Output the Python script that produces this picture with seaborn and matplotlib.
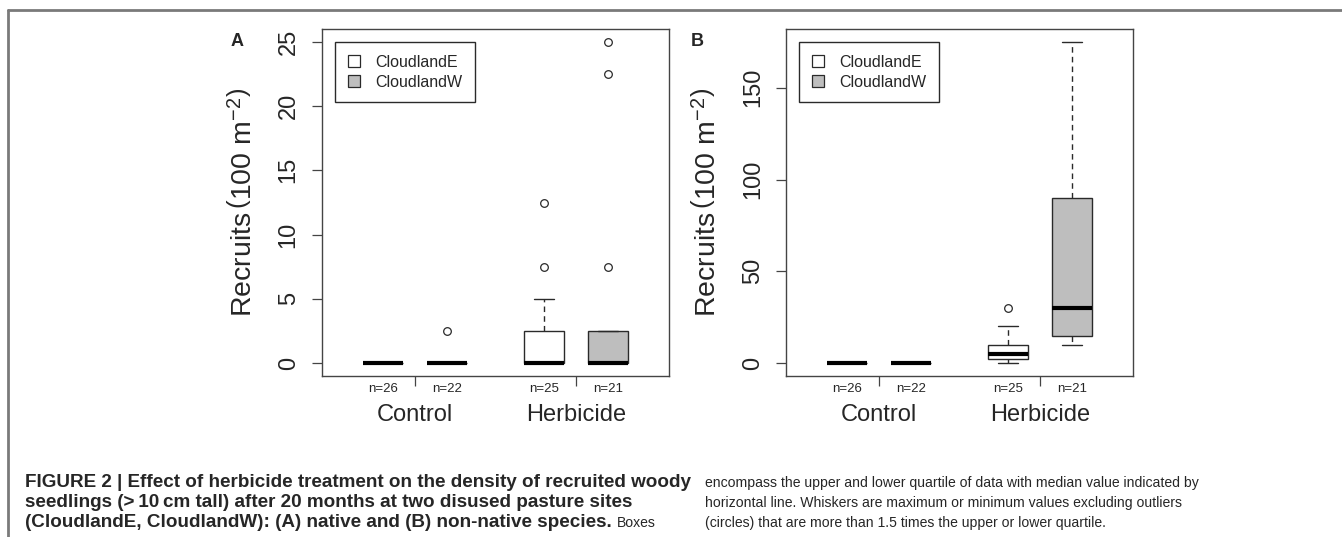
import numpy as np
import pandas as pd
import matplotlib
matplotlib.use("Agg")
import matplotlib.pyplot as plt
import seaborn as sns
from matplotlib.patches import Patch
from matplotlib.lines import Line2D
from matplotlib.transforms import blended_transform_factory

# box layout: two sites inside each treatment
positions = [1.0, 2.0, 3.5, 4.5]
sites = ["CloudlandE", "CloudlandW", "CloudlandE", "CloudlandW"]
n_labels = ["n=26", "n=22", "n=25", "n=21"]
treatments = ["Control", "Herbicide"]
treatment_ticks = [1.5, 4.0]

# recruits (100 m^-2): distinct plot values and how many plots had each value
# (A) native species
native_values = [
    [0.0],
    [0.0, 2.5],
    [0.0, 2.5, 5.0, 7.5, 12.5],
    [0.0, 2.5, 7.5, 22.5, 25.0],
]
native_counts = [
    [26],
    [21, 1],
    [14, 7, 2, 1, 1],
    [11, 7, 1, 1, 1],
]
# (B) non-native species
nonnative_values = [
    [0.0],
    [0.0],
    [0.0, 2.5, 5.0, 7.5, 10.0, 12.5, 15.0, 17.5, 20.0, 30.0],
    [10.0, 12.5, 15.0, 17.5, 20.0, 22.5, 27.5, 30.0, 35.0, 45.0, 60.0,
     75.0, 90.0, 100.0, 115.0, 130.0, 150.0, 175.0],
]
nonnative_counts = [
    [26],
    [22],
    [3, 5, 6, 3, 3, 1, 1, 1, 1, 1],
    [2, 2, 2, 1, 1, 1, 1, 1, 1, 1, 1, 1, 1, 1, 1, 1, 1, 1],
]

native_yticks = [0, 5, 10, 15, 20, 25]
nonnative_yticks = [0, 50, 100, 150]

caption_bold = [
    "FIGURE 2 | Effect of herbicide treatment on the density of recruited woody",
    "seedlings (>\u200910\u2009cm tall) after 20 months at two disused pasture sites",
    "(CloudlandE, CloudlandW): (A) native and (B) non-native species.",
]
caption_tail = "Boxes"
caption_right = [
    "encompass the upper and lower quartile of data with median value indicated by",
    "horizontal line. Whiskers are maximum or minimum values excluding outliers",
    "(circles) that are more than 1.5 times the upper or lower quartile.",
]

palette = {"CloudlandE": "white", "CloudlandW": "#bebebe"}
edge = "#2a2a2a"

sns.set_style("ticks")
plt.rcParams["font.family"] = ["Liberation Sans", "DejaVu Sans"]
plt.rcParams["mathtext.fontset"] = "custom"
plt.rcParams["mathtext.rm"] = "Liberation Sans"
plt.rcParams["mathtext.it"] = "Liberation Sans:italic"


def build_frame(values, counts):
    rows = []
    for pos, site, vals, cnts in zip(positions, sites, values, counts):
        for v in np.repeat(vals, cnts):
            rows.append({"pos": pos, "site": site, "recruits": v})
    return pd.DataFrame(rows)


def draw_panel(ax, df, yticks, ylim):
    sns.boxplot(data=df, x="pos", y="recruits", hue="site", palette=palette,
                native_scale=True, dodge=False, width=0.62, saturation=1,
                linecolor=edge, linewidth=1.0, fliersize=5.5,
                whiskerprops={"linestyle": (0, (4, 3))},
                medianprops={"color": "black", "linewidth": 3,
                             "solid_capstyle": "butt"},
                flierprops={"marker": "o", "markerfacecolor": "none",
                            "markeredgecolor": edge, "markeredgewidth": 0.9},
                legend=False, ax=ax)
    ax.set_xlim(0.05, 5.45)
    ax.set_ylim(*ylim)
    ax.set_yticks(yticks)
    ax.set_xticks(treatment_ticks, treatments)
    ax.set_xlabel("")
    ax.set_ylabel(r"Recruits$\,\left(100\ \mathrm{m}^{-2}\right)$", fontsize=20.5)
    ax.yaxis.set_label_coords(-0.185, 0.5)
    for side in ["top", "right", "bottom", "left"]:
        ax.spines[side].set_visible(True)
        ax.spines[side].set_color("#444444")
        ax.spines[side].set_linewidth(1.0)
    ax.tick_params(axis="y", direction="out", length=7, width=0.9,
                   color="#444444", pad=9, labelsize=17, labelrotation=90)
    for lab in ax.get_yticklabels():
        lab.set_va("center")
    ax.tick_params(axis="x", direction="out", length=7, width=0.9,
                   color="#444444", pad=13, labelsize=17)
    trans = blended_transform_factory(ax.transData, ax.transAxes)
    for pos, lab in zip(positions, n_labels):
        ax.text(pos, -0.0375, lab, transform=trans, ha="center", va="center",
                fontsize=9.5)
    handles = [Patch(facecolor=palette[s], edgecolor=edge, linewidth=0.9)
               for s in ["CloudlandE", "CloudlandW"]]
    leg = ax.legend(handles, ["CloudlandE", "CloudlandW"], loc="upper left",
                    bbox_to_anchor=(0.037, 0.9625), borderaxespad=0,
                    fancybox=False, framealpha=1, edgecolor=edge,
                    fontsize=11.5, handlelength=0.75, handleheight=0.75,
                    handletextpad=1.0, borderpad=0.8, labelspacing=0.3)
    leg.get_frame().set_linewidth(1.0)


fig = plt.figure(figsize=(13.42, 5.37), dpi=100)
ax_a = fig.add_axes([0.2399, 0.2998, 0.2586, 0.6462])
ax_b = fig.add_axes([0.5857, 0.2998, 0.2586, 0.6462])

draw_panel(ax_a, build_frame(native_values, native_counts), native_yticks, (-1, 26))
draw_panel(ax_b, build_frame(nonnative_values, nonnative_counts), nonnative_yticks, (-7, 182))

fig.text(237 / 1342, 1 - 42 / 537, "A", fontsize=13, fontweight="bold",
         ha="center", va="center")
fig.text(697 / 1342, 1 - 42 / 537, "B", fontsize=13, fontweight="bold",
         ha="center", va="center")

# frame lines of the figure panel
line_y = 1 - 10 / 537
fig.add_artist(Line2D([8 / 1342, 1], [line_y, line_y], transform=fig.transFigure,
                      color="#7a7a7a", lw=2))
fig.add_artist(Line2D([8 / 1342, 8 / 1342], [0, line_y], transform=fig.transFigure,
                      color="#7a7a7a", lw=2))

# caption, sized to fit the column widths of the reference
renderer = fig.canvas.get_renderer()
baselines = [487, 507, 527]
cap_font = ["Liberation Sans Narrow", "Liberation Sans", "DejaVu Sans"]

left_texts = [fig.text(25 / 1342, 1 - b / 537, s, fontsize=12, fontweight="bold",
                       family=cap_font, va="baseline", ha="left")
              for s, b in zip(caption_bold, baselines)]
w = left_texts[0].get_window_extent(renderer).width
for t in left_texts:
    t.set_fontsize(12 * 665 / w)

right_texts = [fig.text(705 / 1342, 1 - b / 537, s, fontsize=12,
                        family=cap_font, va="baseline", ha="left")
               for s, b in zip(caption_right, baselines)]
w = right_texts[0].get_window_extent(renderer).width
right_size = 12 * 493 / w
for t in right_texts:
    t.set_fontsize(right_size)

x_end = left_texts[2].get_window_extent(renderer).x1
fig.text((x_end + 5) / 1342, 1 - baselines[2] / 537, caption_tail,
         fontsize=right_size, family=cap_font, va="baseline", ha="left")

fig.savefig("out.png", dpi=100)
